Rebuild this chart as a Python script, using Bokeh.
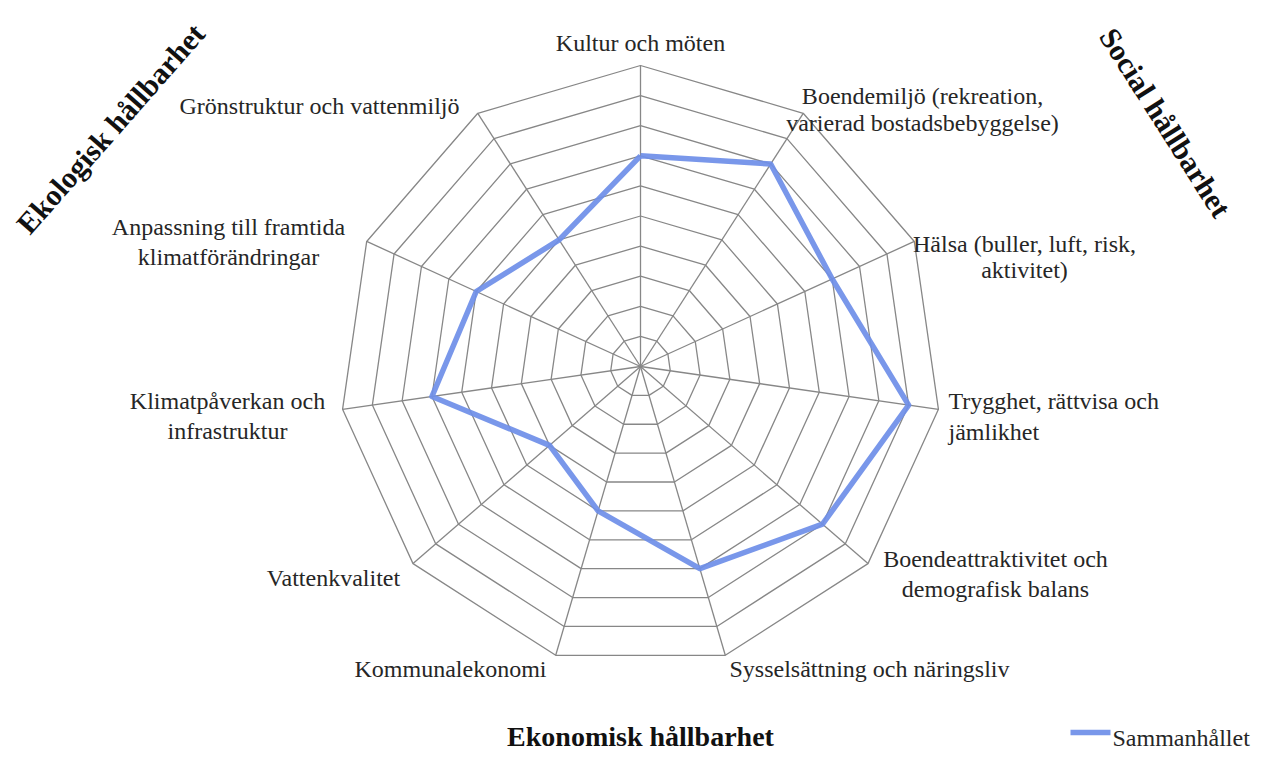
import numpy as np
from bokeh.plotting import figure
from bokeh.models import Range1d
from bokeh.embed import file_html
from bokeh.resources import INLINE
from bokeh.core.properties import value

# ---------------- data ----------------
categories = [
    "Kultur och möten",
    "Boendemiljö (rekreation,\nvarierad bostadsbebyggelse)",
    "Hälsa (buller, luft, risk,\naktivitet)",
    "Trygghet, rättvisa och\njämlikhet",
    "Boendeattraktivitet och\ndemografisk balans",
    "Sysselsättning och näringsliv",
    "Kommunalekonomi",
    "Vattenkvalitet",
    "Klimatpåverkan och\ninfrastruktur",
    "Anpassning till framtida\nklimatförändringar",
    "Grönstruktur och vattenmiljö",
]
values = [7, 8, 7, 9, 8, 7, 5, 4, 7, 6, 5]
series_name = "Sammanhållet"
ring_levels = [1, 2, 3, 4, 5, 6, 7, 8, 9, 10]
max_value = 10
group_titles = ["Ekologisk hållbarhet", "Social hållbarhet", "Ekonomisk hållbarhet"]

# ---------------- layout (reference pixel coords, y down) ----------------
REF_H = 773
W, H = 1257, 757
CX, CY_REF, R = 640, 366, 301
label_layout = [
    (640, [42], "center"),
    (922, [95, 122], "center"),
    (1024, [243, 269], "center"),
    (948, [400, 431], "left"),
    (995, [558, 588], "center"),
    (869, [668], "center"),
    (450, [668], "center"),
    (333, [577], "center"),
    (227, [400, 430], "center"),
    (228, [226, 256], "center"),
    (319, [105], "center"),
]
title_layout = [(110, 128, 48.7, "30px"), (1165, 122, -57.5, "30px"), (640, 736, 0.0, "28px")]
legend_x0, legend_x1, legend_y = 1070, 1110, 732

FONT = value("Liberation Serif")
TXT = "#262626"
GRID = "#878787"
BLUE = "#6E8EE8"
LABEL_FS = "24px"


def fy(y_ref):
    return REF_H - y_ref


p = figure(width=W, height=H, x_range=Range1d(0, W), y_range=Range1d(REF_H - H, REF_H),
           output_backend="svg", toolbar_location=None, min_border=0)
p.axis.visible = False
p.grid.visible = False
p.outline_line_color = None
p.background_fill_color = "white"
p.border_fill_color = "white"

n = len(categories)
theta = np.arange(n) * 2 * np.pi / n
cy = fy(CY_REF)

# rings
xs, ys = [], []
for lv in ring_levels:
    r = R * lv / max_value
    px = list(CX + r * np.sin(theta)) + [CX + r * np.sin(theta[0])]
    py = list(cy + r * np.cos(theta)) + [cy + r * np.cos(theta[0])]
    xs.append(px)
    ys.append(py)
p.multi_line(xs, ys, line_color=GRID, line_width=1.3)

# spokes
sx = [[CX, CX + R * np.sin(t)] for t in theta]
sy = [[cy, cy + R * np.cos(t)] for t in theta]
p.multi_line(sx, sy, line_color=GRID, line_width=1.3)

# series
v = np.array(values, dtype=float) / max_value * R
lx = list(CX + v * np.sin(theta)) + [CX + v[0] * np.sin(theta[0])]
ly = list(cy + v * np.cos(theta)) + [cy + v[0] * np.cos(theta[0])]
p.line(lx, ly, line_color=BLUE, line_width=5.5, line_alpha=0.92, line_join="round")

# category labels
tx, ty, tt, ta = [], [], [], []
for cat, (x0, ylines, al) in zip(categories, label_layout):
    for line, yl in zip(cat.split("\n"), ylines):
        tx.append(x0)
        ty.append(fy(yl))
        tt.append(line)
        ta.append(al)
for al in ("center", "left"):
    idx = [i for i, a in enumerate(ta) if a == al]
    p.text([tx[i] for i in idx], [ty[i] for i in idx], text=[tt[i] for i in idx],
           text_align=al, text_baseline="middle", text_font=FONT, text_font_size=LABEL_FS,
           text_color=TXT)

# group titles
for title, (x0, y0, ang, fs) in zip(group_titles, title_layout):
    p.text([x0], [fy(y0)], text=[title], angle=np.deg2rad(ang), text_align="center",
           text_baseline="middle", text_font=FONT, text_font_size=fs, text_font_style="bold",
           text_color="#111111")

# legend
p.line([legend_x0, legend_x1], [fy(legend_y), fy(legend_y)], line_color=BLUE, line_width=5.5,
       line_alpha=0.92)
p.text([legend_x1 + 2], [fy(legend_y + 5)], text=[series_name], text_align="left",
       text_baseline="middle", text_font=FONT, text_font_size=LABEL_FS, text_color=TXT)

open("out.html", "w").write(file_html(p, INLINE))
